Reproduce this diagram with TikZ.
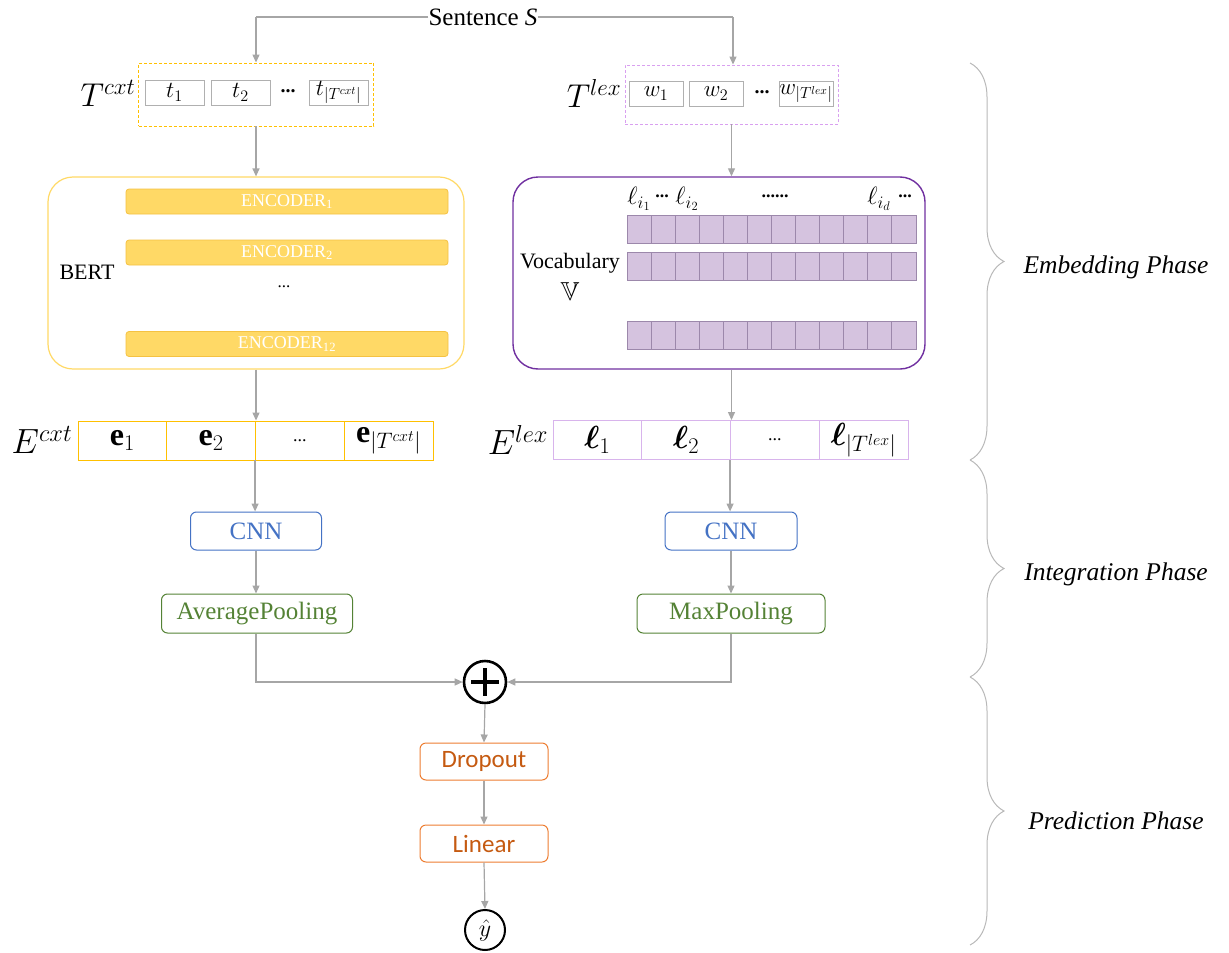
\documentclass[tikz,border=0pt]{standalone}
\usepackage{fix-cm}
\usepackage{amsmath,amssymb,bm}
\usepackage{fontspec}
\setmainfont{Liberation Serif}
\newfontfamily\calib{Carlito}
\usetikzlibrary{arrows.meta,decorations.pathreplacing,calc}
\newcommand\fsz[1]{\fontsize{#1}{#1}\selectfont}
\definecolor{arrgray}{HTML}{A6A6A6}
\definecolor{tokgray}{HTML}{B0B0B0}
\definecolor{yelline}{HTML}{FFC000}
\definecolor{yelbox}{HTML}{FFD966}
\definecolor{encfill}{HTML}{FFD966}
\definecolor{encline}{HTML}{F5C242}
\definecolor{viodash}{HTML}{D9A0F0}
\definecolor{violine}{HTML}{D8B4EC}
\definecolor{purpbox}{HTML}{7030A0}
\definecolor{gridfill}{HTML}{D5C3DF}
\definecolor{gridline}{HTML}{9C88AB}
\definecolor{cnnblue}{HTML}{4472C4}
\definecolor{poolgreen}{HTML}{548235}
\definecolor{orline}{HTML}{ED7D31}
\definecolor{ortext}{HTML}{C55A11}
\definecolor{bracegray}{HTML}{B8B8B8}
\begin{document}
\begin{tikzpicture}[x=1pt,y=-1pt,
  arr/.style={draw=arrgray, line width=1.2pt, -{Triangle[length=8pt,width=7pt]}},
  tok/.style={draw=tokgray, line width=0.9pt, minimum height=25pt, inner sep=0pt, font=\fsz{23}},
  plain/.style={inner sep=0pt, font=\fsz{20}},
  enc/.style={draw=encline, fill=encfill, line width=0.8pt, rounded corners=3pt, minimum width=322pt, minimum height=25pt, inner sep=0pt, text=white, font=\fsz{18}},
  ecell/.style={draw=yelline, line width=0.9pt, minimum width=88.75pt, minimum height=39pt, inner sep=0pt, font=\fsz{32}},
  lcell/.style={draw=violine, line width=0.9pt, minimum width=88.75pt, minimum height=39pt, inner sep=0pt, font=\fsz{32}},
  cnnbox/.style={draw=cnnblue, line width=1pt, rounded corners=6pt, minimum height=38pt, inner sep=0pt, text=cnnblue, font=\fsz{25}},
  poolbox/.style={draw=poolgreen, line width=1pt, rounded corners=6pt, minimum height=39pt, inner sep=0pt, text=poolgreen, font=\fsz{25}},
  orbox/.style={draw=orline, line width=1pt, rounded corners=6pt, minimum width=128pt, minimum height=37pt, inner sep=0pt, text=ortext, font=\calib\fsz{25}},
  bigbox/.style={rounded corners=25pt, minimum width=414pt, minimum height=192pt, inner sep=0pt},
  phasebrace/.style={draw=bracegray, line width=1pt, decorate, decoration={brace, amplitude=34pt}},
  phase/.style={inner sep=0pt, font=\fsz{25.5}\itshape}
]
\useasboundingbox (0,0) rectangle (1229,953);

% Sentence
\node[inner sep=0pt, font=\fsz{25}] (sent) at (483,17) {Sentence \textit{S}};

% T^cxt
\node[inner sep=0pt, font=\fsz{33}] (tcxtlab) at (108,93) {$T^{cxt}$};
\node[draw=yelline, dash pattern=on 3pt off 2pt, line width=0.9pt, minimum width=235pt, minimum height=63pt, inner sep=0pt] (tcxt) at (256,94.5) {};
\node[tok, minimum width=59pt] (t1) at (174.5,92.5) {$t_1$};
\node[tok, minimum width=59pt] (t2) at (240.5,92.5) {$t_2$};
\node[plain] (tdots) at (288,91) {\textbf{...}};
\node[tok, minimum width=59pt] (tn) at (338.5,92.5) {$t_{|T^{cxt}|}$};

% T^lex
\node[inner sep=0pt, font=\fsz{33}] (tlexlab) at (594,93) {$T^{lex}$};
\node[draw=viodash, dash pattern=on 3pt off 2pt, line width=0.9pt, minimum width=213pt, minimum height=59pt, inner sep=0pt] (tlex) at (731.5,94.5) {};
\node[tok, minimum width=54pt] (w1) at (656,93.5) {$w_1$};
\node[tok, minimum width=54pt] (w2) at (716,93.5) {$w_2$};
\node[plain] (wdots) at (762,92) {\textbf{...}};
\node[tok, minimum width=54pt] (wn) at (806,93.5) {$w_{|T^{lex}|}$};

% BERT
\node[bigbox, draw=yelbox, line width=1.2pt, minimum width=416pt] (bert) at (256,273) {};
\node[enc] (enc1) at (287,201.5) {ENCODER\textsubscript{1}};
\node[enc] (enc2) at (287,252.5) {ENCODER\textsubscript{2}};
\node[plain, font=\fsz{17}] (encdots) at (284,287) {...};
\node[enc] (enc12) at (287,344) {ENCODER\textsubscript{12}};
\node[inner sep=0pt, font=\fsz{22}] (bertlab) at (87,272) {BERT};

% Vocabulary
\node[bigbox, draw=purpbox, line width=1.4pt, minimum width=412pt] (vocab) at (719,273) {};
\foreach \yy in {215,252,321}{
  \foreach \i in {0,...,11}{
    \draw[draw=gridline, fill=gridfill, line width=0.9pt] ({627+24.083*\i},\yy) rectangle ({627+24.083*(\i+1)},\yy+28);
  }
}
\node[plain, font=\fsz{25}] (li1) at (639,199) {$\ell_{i_1}$};
\node[plain, font=\fsz{18}] (ld1) at (662,196) {\textbf{...}};
\node[plain, font=\fsz{25}] (li2) at (687,199) {$\ell_{i_2}$};
\node[plain, font=\fsz{18}] (ld2) at (775,196) {\textbf{......}};
\node[plain, font=\fsz{25}] (lid) at (879,199) {$\ell_{i_d}$};
\node[plain, font=\fsz{18}] (ld3) at (905,196) {\textbf{...}};
\node[inner sep=0pt, font=\fsz{22}] (voclab) at (570,263) {Vocabulary};
\node[inner sep=0pt, font=\fsz{26}] (vv) at (570,292) {$\mathbb{V}$};

% E^cxt
\node[inner sep=0pt, font=\fsz{35}] (ecxtlab) at (42,440) {$E^{cxt}$};
\node[ecell] (e1) at (122.4,440.5) {$\mathbf{e}_1$};
\node[ecell] (e2) at (211.1,440.5) {$\mathbf{e}_2$};
\node[ecell, font=\fsz{18}] (e3) at (299.9,440.5) {...};
\node[ecell] (e4) at (388.6,440.5) {$\mathbf{e}_{|T^{cxt}|}$};

% E^lex
\node[inner sep=0pt, font=\fsz{35}] (elexlab) at (518,440) {$E^{lex}$};
\node[lcell] (l1) at (597.4,440) {$\bm{\ell}_1$};
\node[lcell] (l2) at (686.1,440) {$\bm{\ell}_2$};
\node[lcell, font=\fsz{18}] (l3) at (774.9,440) {...};
\node[lcell] (l4) at (863.6,440) {$\bm{\ell}_{|T^{lex}|}$};

% CNN / pooling
\node[cnnbox, minimum width=131pt] (cnnl) at (256,531) {CNN};
\node[poolbox, minimum width=191pt] (avgp) at (257,613.5) {AveragePooling};
\node[cnnbox, minimum width=132pt] (cnnr) at (731,531) {CNN};
\node[poolbox, minimum width=188pt] (maxp) at (731,613.5) {MaxPooling};

% merge
\node[circle, draw=black, line width=2.6pt, minimum size=42pt, inner sep=0pt,
  path picture={\draw[line width=3.2pt] ($(path picture bounding box.center)+(-14,0)$) -- ($(path picture bounding box.center)+(14,0)$);
  \draw[line width=3.2pt] ($(path picture bounding box.center)+(0,-14)$) -- ($(path picture bounding box.center)+(0,14)$);}] (plus) at (485,682) {};

\node[orbox] (drop) at (484,761.5) {Dropout};
\node[orbox] (lin) at (484,843.5) {Linear};
\node[circle, draw=black, line width=2pt, minimum size=40pt, inner sep=0pt, font=\fsz{24}] (yhat) at (485,930) {$\hat{y}$};

% connectors
\coordinate (cl) at (256,17);
\coordinate (cr) at (733,17);
\draw[draw=arrgray, line width=1.2pt] (sent.west) -- (cl);
\draw[arr] (cl) -- (cl |- tcxt.north);
\draw[draw=arrgray, line width=1.2pt] (sent.east) -- (cr);
\draw[arr] (cr) -- (cr |- tlex.north);
\draw[arr] (tcxt.south) -- (tcxt.south |- bert.north);
\draw[arr] (bert.south) -- (bert.south |- e3.north west);
\draw[arr] (tlex.south) -- (tlex.south |- vocab.north);
\draw[arr] (tlex.south |- vocab.south) -- (tlex.south |- l3.north west);
\draw[arr] (e3.south west) -- (e3.south west |- cnnl.north);
\draw[arr] (cnnl.south) -- (avgp.north -| cnnl.south);
\draw[arr] (l3.south west) -- (l3.south west |- cnnr.north);
\draw[arr] (cnnr.south) -- (maxp.north);
\draw[arr] (cnnl.south |- avgp.south) |- (plus.west);
\draw[arr] (maxp.south) |- (plus.east);
\draw[arr] (plus.south) -- (drop.north);
\draw[arr] (drop.south) -- (lin.north);
\draw[arr] (lin.south) -- (yhat.north);

% phase braces
\coordinate (b0) at (970,63);
\coordinate (b1) at (970,460);
\coordinate (b2) at (970,677);
\coordinate (b3) at (970,945);
\draw[phasebrace] (b0) -- (b1);
\draw[phasebrace] (b1) -- (b2);
\draw[phasebrace] (b2) -- (b3);
\node[phase] (ph1) at (1116,267) {Embedding Phase};
\node[phase] (ph2) at (1116,574) {Integration Phase};
\node[phase] (ph3) at (1116,821) {Prediction Phase};
\end{tikzpicture}
\end{document}
